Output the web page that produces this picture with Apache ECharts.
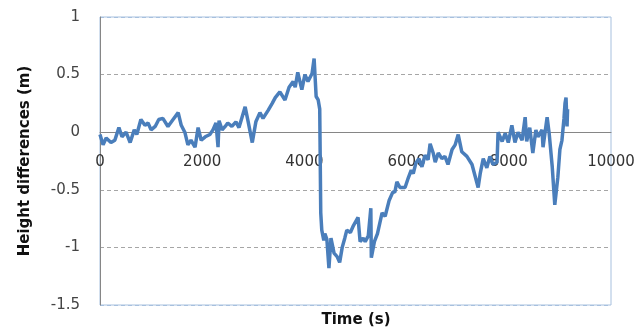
<!DOCTYPE html>
<html>
<head>
<meta charset="utf-8">
<script src="https://cdn.jsdelivr.net/npm/echarts@6/dist/echarts.min.js"></script>
<style>
  html, body { margin: 0; padding: 0; background: #fff; }
  #chart { width: 636px; height: 331px; }
</style>
</head>
<body>
<div id="chart"></div>
<script>
// Height difference record over time
var times = [
  0, 60, 120, 215, 290, 370, 430, 510, 590, 670, 720, 800, 880, 940, 1000, 1080, 1150, 1230, 1330, 1430,
  1530, 1590, 1660, 1720, 1780, 1860, 1920, 1980, 2060, 2150, 2210, 2270, 2290, 2310, 2330, 2390, 2450, 2500, 2580, 2660,
  2720, 2780, 2840, 2900, 2980, 3050, 3130, 3190, 3290, 3370, 3430, 3520, 3620, 3700, 3780, 3820, 3870, 3950, 4010, 4070,
  4150, 4190, 4230, 4270, 4300, 4320,
  4340, 4380, 4400, 4440, 4480, 4520, 4580, 4640, 4690, 4740, 4790, 4830, 4900, 4960, 5050, 5090, 5150, 5190, 5250, 5300,
  5310, 5370, 5430, 5520, 5580, 5660, 5730, 5770, 5810, 5870, 5970, 6030, 6090, 6130, 6180, 6240, 6300, 6360, 6420,
  6460, 6520, 6560, 6620, 6690, 6750, 6810, 6890, 6950, 7010, 7080, 7180, 7280, 7340, 7400, 7440, 7500, 7570, 7630, 7690,
  7770, 7790, 7870, 7930, 7990, 8060, 8120, 8180, 8260, 8320, 8350, 8410, 8470, 8530, 8570, 8650, 8670, 8750, 8790, 8850,
  8900, 8960, 9000, 9040, 9080, 9100, 9120, 9140, 9150
];
var heights = [
  -0.02, -0.11, -0.05, -0.09, -0.07, 0.04, -0.04, 0.00, -0.09, 0.02, -0.02, 0.11, 0.06, 0.08, 0.02, 0.05, 0.11, 0.12, 0.05, 0.11,
  0.17, 0.06, 0.00, -0.11, -0.07, -0.13, 0.04, -0.07, -0.04, -0.02, 0.02, 0.08, 0.09, -0.13, 0.10, 0.02, 0.05, 0.08, 0.05, 0.09,
  0.04, 0.13, 0.22, 0.09, -0.09, 0.09, 0.17, 0.12, 0.19, 0.25, 0.30, 0.35, 0.28, 0.39, 0.44, 0.39, 0.52, 0.37, 0.50, 0.44,
  0.51, 0.64, 0.31, 0.28, 0.20, -0.70,
  -0.85, -0.94, -0.88, -0.93, -1.18, -0.92, -1.05, -1.08, -1.13, -1.00, -0.92, -0.85, -0.87, -0.81, -0.74, -0.95, -0.92, -0.95, -0.90, -0.66,
  -1.09, -0.95, -0.88, -0.70, -0.73, -0.59, -0.52, -0.52, -0.43, -0.48, -0.48, -0.40, -0.33, -0.36, -0.27, -0.23, -0.30, -0.20, -0.24,
  -0.10, -0.18, -0.26, -0.18, -0.23, -0.21, -0.28, -0.15, -0.11, -0.02, -0.17, -0.21, -0.28, -0.38, -0.48, -0.36, -0.23, -0.31, -0.21, -0.28,
  -0.26, 0.00, -0.08, -0.01, -0.09, 0.06, -0.09, 0.00, -0.07, 0.13, -0.08, 0.04, -0.18, 0.02, -0.04, 0.02, -0.13, 0.13, -0.01, -0.30,
  -0.63, -0.39, -0.15, -0.07, 0.12, 0.25, 0.30, 0.05, 0.20
];
var yTicks = { min: -1.5, max: 1, step: 0.5 };
var xTicks = { min: 0, max: 10000, step: 2000 };

var points = times.map(function (t, i) { return [t, heights[i]]; });

var fontFamily = 'DejaVu Sans';
var gridColors = ['#a7c0de', '#a6a6a6', '#a6a6a6', '#868686', '#a6a6a6', '#a7c0de'];

var chart = echarts.init(document.getElementById('chart'), null, { renderer: 'canvas' });
chart.setOption({
  animation: false,
  grid: {
    left: 100, right: 25, top: 17, bottom: 26,
    containLabel: false, outerBoundsMode: 'none',
    show: true, borderColor: '#a7c0de', borderWidth: 1, backgroundColor: '#fff'
  },
  xAxis: {
    type: 'value', position: 'bottom',
    min: xTicks.min, max: xTicks.max, interval: xTicks.step,
    axisLine: { show: true, onZero: false, lineStyle: { color: '#868686', width: 1 } },
    axisTick: { show: false },
    splitLine: { show: false },
    axisLabel: {
      show: true, margin: 22, color: '#333', fontSize: 15, fontFamily: fontFamily,
      hideOverlap: false, showMinLabel: true, showMaxLabel: true,
      formatter: function (v) { return String(v); }
    }
  },
  yAxis: {
    type: 'value',
    min: yTicks.min, max: yTicks.max, interval: yTicks.step,
    name: 'Height differences (m)',
    nameLocation: 'middle', nameGap: 67,
    nameTextStyle: { fontSize: 15, fontWeight: 'bold', color: '#111', fontFamily: fontFamily },
    axisLine: { show: true, onZero: false, lineStyle: { color: '#868686', width: 1 } },
    axisTick: { show: false },
    splitLine: { show: true, lineStyle: { color: gridColors, type: [4, 3], width: 1 } },
    axisLabel: { margin: 20, color: '#444', fontSize: 15, fontFamily: fontFamily, hideOverlap: false }
  },
  graphic: [{
    type: 'text',
    x: 356, y: 320,
    style: {
      text: 'Time (s)', fill: '#111',
      font: 'bold 15px "DejaVu Sans"',
      textAlign: 'center', textVerticalAlign: 'middle'
    }
  }],
  series: [{
    type: 'line',
    data: points,
    showSymbol: false,
    lineStyle: { color: '#4a7ebb', width: 3.5 },
    itemStyle: { color: '#4a7ebb' },
    z: 3
  }]
});

// Lift the time axis (line and labels) up to the height = 0 level
var zeroY = chart.convertToPixel({ yAxisIndex: 0 }, 0);
var baseY = chart.convertToPixel({ yAxisIndex: 0 }, yTicks.min);
chart.setOption({ xAxis: { offset: zeroY - baseY } });
</script>
</body>
</html>
